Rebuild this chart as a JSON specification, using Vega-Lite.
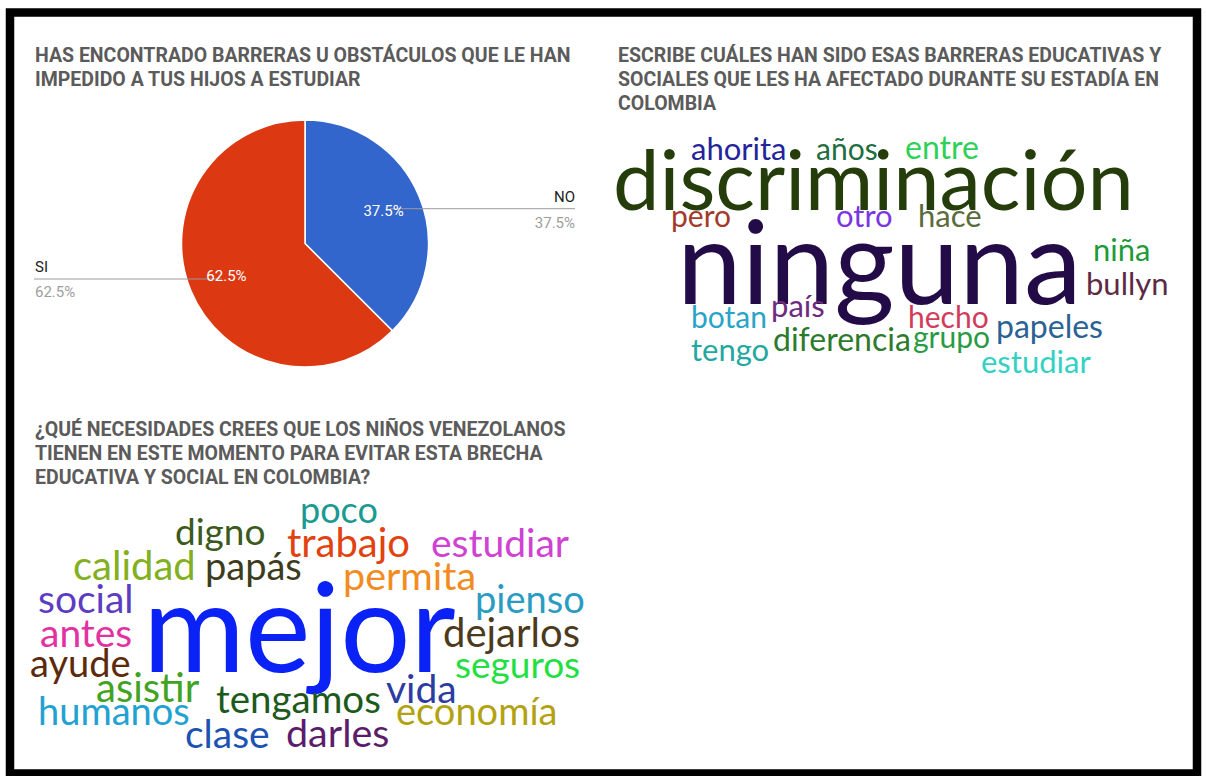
{
  "$schema": "https://vega.github.io/schema/vega-lite/v6.json",
  "autosize": {"type": "fit", "contains": "padding"},
  "width": 1206,
  "height": 776,
  "padding": {"left": 10, "top": 12.5, "right": 9, "bottom": 2.5},
  "background": "white",
  "config": {"view": {"stroke": "#000000", "strokeWidth": 8.5}},
  "datasets": {
    "titles": [
      {"title": "HAS ENCONTRADO BARRERAS U OBSTÁCULOS QUE LE HAN\nIMPEDIDO A TUS HIJOS A ESTUDIAR", "x": 35, "y": 62},
      {"title": "ESCRIBE CUÁLES HAN SIDO ESAS BARRERAS EDUCATIVAS Y\nSOCIALES QUE LES HA AFECTADO DURANTE SU ESTADÍA EN\nCOLOMBIA", "x": 618, "y": 62},
      {"title": "¿QUÉ NECESIDADES CREES QUE LOS NIÑOS VENEZOLANOS\nTIENEN EN ESTE MOMENTO PARA EVITAR ESTA BRECHA\nEDUCATIVA Y SOCIAL EN COLOMBIA?", "x": 35, "y": 436}
    ],
    "pie": [
      {"answer": "NO", "pct": 0.375},
      {"answer": "SI", "pct": 0.625}
    ],
    "leaders": [
      {"answer": "NO", "x1": 390, "x2": 575, "y": 208.7},
      {"answer": "SI", "x1": 34, "x2": 222, "y": 279}
    ],
    "outer": [
      {"answer": "NO", "label": "NO", "kind": "name", "x": 575, "y": 201.5},
      {"answer": "NO", "label": "37.5%", "kind": "pct", "x": 575, "y": 227.5},
      {"answer": "SI", "label": "SI", "kind": "name", "x": 35, "y": 271.5},
      {"answer": "SI", "label": "62.5%", "kind": "pct", "x": 35, "y": 297}
    ],
    "words": [
      {"id": "c1-ahorita", "word": "ahorita", "x": 691, "y": 160, "w": 3.1},
      {"id": "c1-años", "word": "años", "x": 816, "y": 160, "w": 3.0},
      {"id": "c1-entre", "word": "entre", "x": 905, "y": 159, "w": 3.2},
      {"id": "c1-discriminación", "word": "discriminación", "x": 613, "y": 210, "w": 8.3},
      {"id": "c1-pero", "word": "pero", "x": 671, "y": 227, "w": 3.0},
      {"id": "c1-otro", "word": "otro", "x": 836, "y": 227, "w": 3.1},
      {"id": "c1-hace", "word": "hace", "x": 918, "y": 227, "w": 3.1},
      {"id": "c1-ninguna", "word": "ninguna", "x": 677, "y": 304, "w": 11.6},
      {"id": "c1-niña", "word": "niña", "x": 1093, "y": 261, "w": 3.1},
      {"id": "c1-bullyn", "word": "bullyn", "x": 1086, "y": 295, "w": 3.1},
      {"id": "c1-botan", "word": "botan", "x": 691, "y": 328, "w": 3.0},
      {"id": "c1-país", "word": "país", "x": 771, "y": 317, "w": 3.1},
      {"id": "c1-hecho", "word": "hecho", "x": 908, "y": 328, "w": 3.0},
      {"id": "c1-papeles", "word": "papeles", "x": 996, "y": 338, "w": 3.2},
      {"id": "c1-tengo", "word": "tengo", "x": 691, "y": 361, "w": 3.1},
      {"id": "c1-diferencia", "word": "diferencia", "x": 773, "y": 351, "w": 3.2},
      {"id": "c1-grupo", "word": "grupo", "x": 913, "y": 348, "w": 3.0},
      {"id": "c1-estudiar", "word": "estudiar", "x": 981, "y": 373, "w": 3.1},
      {"id": "c2-poco", "word": "poco", "x": 300, "y": 523, "w": 3.6},
      {"id": "c2-digno", "word": "digno", "x": 175, "y": 545, "w": 3.7},
      {"id": "c2-trabajo", "word": "trabajo", "x": 287, "y": 557, "w": 4.0},
      {"id": "c2-estudiar", "word": "estudiar", "x": 431, "y": 557, "w": 3.9},
      {"id": "c2-calidad", "word": "calidad", "x": 73, "y": 580, "w": 4.0},
      {"id": "c2-papás", "word": "papás", "x": 205, "y": 580, "w": 3.8},
      {"id": "c2-permita", "word": "permita", "x": 343, "y": 590, "w": 3.95},
      {"id": "c2-social", "word": "social", "x": 38, "y": 613, "w": 3.9},
      {"id": "c2-pienso", "word": "pienso", "x": 475, "y": 613, "w": 3.8},
      {"id": "c2-mejor", "word": "mejor", "x": 143, "y": 672, "w": 12.4},
      {"id": "c2-dejarlos", "word": "dejarlos", "x": 443, "y": 647, "w": 4.0},
      {"id": "c2-antes", "word": "antes", "x": 40, "y": 647, "w": 3.9},
      {"id": "c2-ayude", "word": "ayude", "x": 30, "y": 677, "w": 3.8},
      {"id": "c2-seguros", "word": "seguros", "x": 455, "y": 678, "w": 3.7},
      {"id": "c2-asistir", "word": "asistir", "x": 96, "y": 702, "w": 4.0},
      {"id": "c2-vida", "word": "vida", "x": 386, "y": 703, "w": 3.9},
      {"id": "c2-tengamos", "word": "tengamos", "x": 216, "y": 713, "w": 3.85},
      {"id": "c2-humanos", "word": "humanos", "x": 38, "y": 725, "w": 3.8},
      {"id": "c2-economía", "word": "economía", "x": 396, "y": 725, "w": 3.8},
      {"id": "c2-clase", "word": "clase", "x": 185, "y": 748, "w": 3.9},
      {"id": "c2-darles", "word": "darles", "x": 286, "y": 747, "w": 3.95}
    ]
  },
  "layer": [
    {
      "data": {"name": "titles"},
      "mark": {"type": "text", "align": "left", "baseline": "alphabetic", "font": "Roboto", "fontWeight": "bold", "fontSize": 19.5, "color": "#5b5b5b", "lineBreak": "\n", "lineHeight": 24},
      "encoding": {
        "x": {"field": "x", "type": "quantitative", "scale": {"domain": [10, 1197], "nice": false, "zero": false}, "axis": null},
        "y": {"field": "y", "type": "quantitative", "scale": {"domain": [12.5, 773.5], "nice": false, "zero": false, "reverse": true}, "axis": null},
        "text": {"field": "title"}
      }
    },
    {
      "data": {"name": "pie"},
      "mark": {"type": "arc", "radius": 123.5, "stroke": "#ffffff", "strokeWidth": 1.5},
      "encoding": {
        "x": {"datum": 305, "type": "quantitative", "scale": {"domain": [10, 1197], "nice": false, "zero": false}, "axis": null},
        "y": {"datum": 243.5, "type": "quantitative", "scale": {"domain": [12.5, 773.5], "nice": false, "zero": false, "reverse": true}, "axis": null},
        "theta": {"field": "pct", "type": "quantitative", "stack": true},
        "color": {"field": "answer", "type": "nominal", "scale": {"domain": ["NO", "SI"], "range": ["#3366cc", "#dc3912"]}, "legend": null}
      }
    },
    {
      "data": {"name": "leaders"},
      "mark": {"type": "rule", "color": "#9a9a9a", "strokeWidth": 1},
      "encoding": {
        "x": {"field": "x1", "type": "quantitative", "scale": {"domain": [10, 1197], "nice": false, "zero": false}, "axis": null},
        "x2": {"field": "x2"},
        "y": {"field": "y", "type": "quantitative", "scale": {"domain": [12.5, 773.5], "nice": false, "zero": false, "reverse": true}, "axis": null}
      }
    },
    {
      "data": {"name": "pie"},
      "mark": {"type": "text", "radius": 85, "font": "Roboto", "fontSize": 15, "color": "#ffffff", "align": "center", "baseline": "middle"},
      "encoding": {
        "x": {"datum": 305, "type": "quantitative", "scale": {"domain": [10, 1197], "nice": false, "zero": false}, "axis": null},
        "y": {"datum": 243.5, "type": "quantitative", "scale": {"domain": [12.5, 773.5], "nice": false, "zero": false, "reverse": true}, "axis": null},
        "theta": {"field": "pct", "type": "quantitative", "stack": true},
        "detail": {"field": "answer", "type": "nominal"},
        "text": {"field": "pct", "type": "quantitative", "format": ".1%"}
      }
    },
    {
      "data": {"name": "outer"},
      "transform": [{"filter": "datum.answer === 'NO'"}],
      "mark": {"type": "text", "align": "right", "baseline": "alphabetic", "font": "Roboto", "fontSize": 15},
      "encoding": {
        "x": {"field": "x", "type": "quantitative", "scale": {"domain": [10, 1197], "nice": false, "zero": false}, "axis": null},
        "y": {"field": "y", "type": "quantitative", "scale": {"domain": [12.5, 773.5], "nice": false, "zero": false, "reverse": true}, "axis": null},
        "text": {"field": "label"},
        "color": {"field": "kind", "type": "nominal", "scale": {"domain": ["name", "pct"], "range": ["#222222", "#9e9e9e"]}, "legend": null}
      }
    },
    {
      "data": {"name": "outer"},
      "transform": [{"filter": "datum.answer === 'SI'"}],
      "mark": {"type": "text", "align": "left", "baseline": "alphabetic", "font": "Roboto", "fontSize": 15},
      "encoding": {
        "x": {"field": "x", "type": "quantitative", "scale": {"domain": [10, 1197], "nice": false, "zero": false}, "axis": null},
        "y": {"field": "y", "type": "quantitative", "scale": {"domain": [12.5, 773.5], "nice": false, "zero": false, "reverse": true}, "axis": null},
        "text": {"field": "label"},
        "color": {"field": "kind", "type": "nominal", "scale": {"domain": ["name", "pct"], "range": ["#222222", "#9e9e9e"]}, "legend": null}
      }
    },
    {
      "data": {"name": "words"},
      "mark": {"type": "text", "align": "left", "baseline": "alphabetic", "font": "Lato"},
      "encoding": {
        "x": {"field": "x", "type": "quantitative", "scale": {"domain": [10, 1197], "nice": false, "zero": false}, "axis": null},
        "y": {"field": "y", "type": "quantitative", "scale": {"domain": [12.5, 773.5], "nice": false, "zero": false, "reverse": true}, "axis": null},
        "text": {"field": "word"},
        "size": {"field": "w", "type": "quantitative", "scale": {"domain": [0, 12], "range": [0, 120], "zero": true}, "legend": null},
        "color": {
          "field": "id", "type": "nominal", "legend": null,
          "scale": {
            "domain": ["c1-ahorita", "c1-años", "c1-entre", "c1-discriminación", "c1-pero", "c1-otro", "c1-hace", "c1-ninguna", "c1-niña", "c1-bullyn", "c1-botan", "c1-país", "c1-hecho", "c1-papeles", "c1-tengo", "c1-diferencia", "c1-grupo", "c1-estudiar", "c2-poco", "c2-digno", "c2-trabajo", "c2-estudiar", "c2-calidad", "c2-papás", "c2-permita", "c2-social", "c2-pienso", "c2-mejor", "c2-dejarlos", "c2-antes", "c2-ayude", "c2-seguros", "c2-asistir", "c2-vida", "c2-tengamos", "c2-humanos", "c2-economía", "c2-clase", "c2-darles"],
            "range": ["#24249a", "#1f6e3f", "#2ed158", "#243d0a", "#a33a2c", "#7b35e3", "#5a6b3c", "#230b47", "#1d9a3a", "#5c2a44", "#2aa3c9", "#6e2a7e", "#d13c5c", "#2b6294", "#22a8a0", "#2c7a2c", "#2a9a44", "#33d1c4", "#1a9a92", "#3b5a1c", "#e2420f", "#d042d2", "#82b022", "#3c3c1c", "#f28c22", "#5b3cc2", "#2a9cc2", "#0a22f5", "#4c3a1c", "#e232a2", "#5c2a0c", "#22e042", "#42a222", "#2c3ca2", "#1c5a1c", "#22a2d2", "#b2a212", "#1c52b2", "#5c1c6c"]
          }
        }
      }
    }
  ],
  "resolve": {"scale": {"color": "independent", "size": "independent"}}
}
